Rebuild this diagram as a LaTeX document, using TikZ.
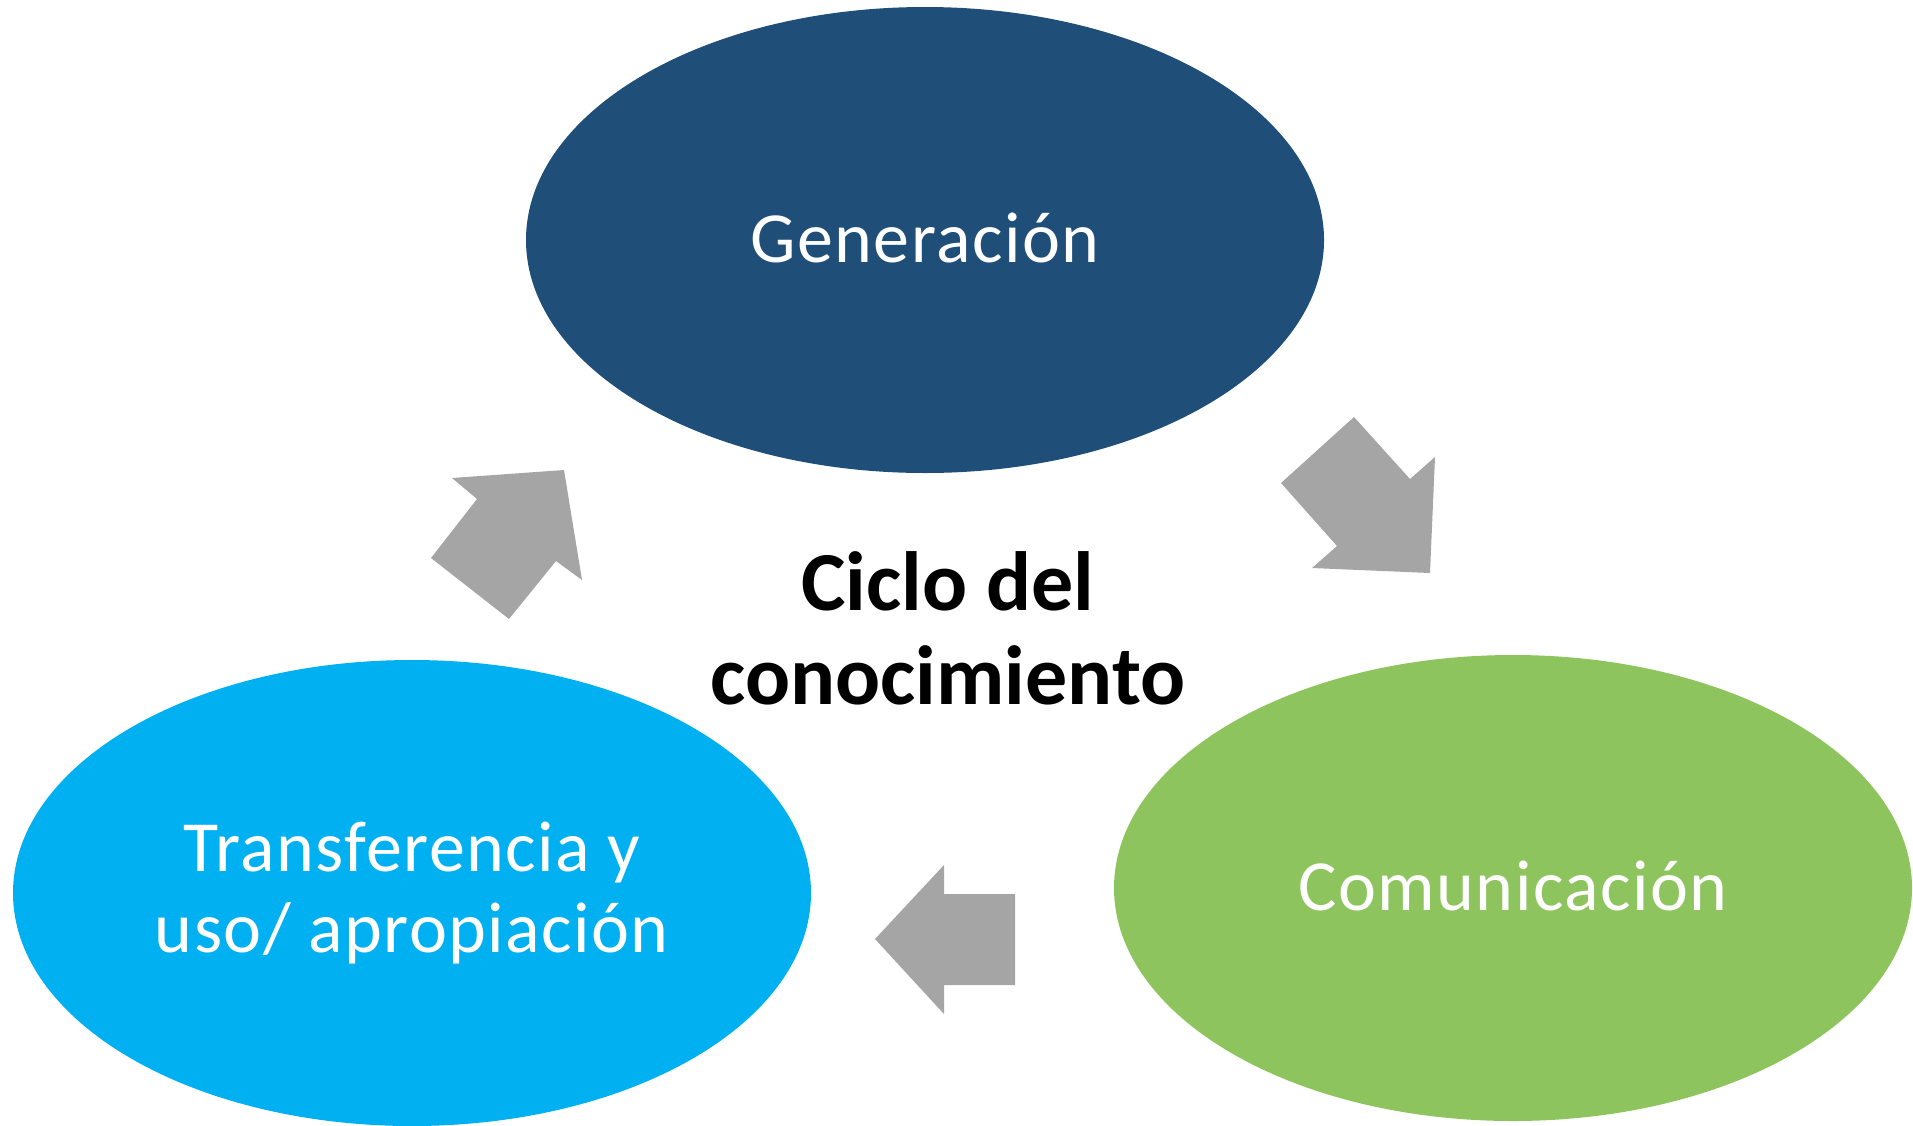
\documentclass[tikz,border=0pt]{standalone}
\usepackage{fontspec}
\setmainfont{Carlito}
\usepackage{xcolor}
\usepackage{tikz}
\usetikzlibrary{shapes.geometric}
\definecolor{gendark}{RGB}{31,78,121}
\definecolor{transblue}{RGB}{0,176,240}
\definecolor{comgreen}{RGB}{142,196,94}
\definecolor{arrowgray}{RGB}{165,165,165}
\begin{document}
\begin{tikzpicture}[x=1pt, y=-1pt,
    phase/.style={ellipse, minimum width=798pt, minimum height=466pt, inner sep=0pt,
                  text=white, font=\fontsize{72}{81}\selectfont\addfontfeature{LetterSpace=2}, align=center},
    oneline/.style={text height=45pt, text depth=0pt},
    blockarrow/.style={fill=arrowgray}]
             \useasboundingbox (0,0) rectangle (1913,1125);
             \node[phase, oneline, fill=gendark] (gen) at (925,240) {Generación};
             \node[phase, oneline, fill=comgreen] (com) at (1513,888) {Comunicación};
             \node[phase, fill=transblue] (tra) at (412,893) {Transferencia y\\uso/ apropiación};
             \node[font=\bfseries\fontsize{84}{94}\selectfont, align=center] (ciclo) at (948,628) {Ciclo del\\conocimiento};
             % flechas del ciclo
             \fill[blockarrow] (1354,417) -- (1410,479) -- (1435,457) -- (1430,573) -- (1312,568) -- (1337,546) -- (1281,483) -- cycle;
             \fill[blockarrow] (944,865) -- (944,894) -- (1015,894) -- (1015,985) -- (944,985) -- (944,1014) -- (875,939) -- cycle;
             \fill[blockarrow] (452,478) -- (564,470) -- (582,580) -- (556,561) -- (509,619) -- (431,558) -- (477,499) -- cycle;
         \end{tikzpicture}
\end{document}
